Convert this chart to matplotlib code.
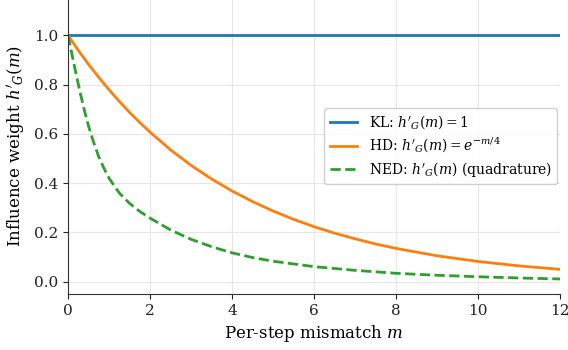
import matplotlib
matplotlib.use("Agg")
import matplotlib.pyplot as plt

plt.rcParams['font.family'] = ['DejaVu Serif']
plt.rcParams['mathtext.fontset'] = 'dejavuserif'

m_kl = [0, 12]
kl = [1.0, 1.0]

m_hd = [0, 0.25, 0.5, 0.75, 1, 1.25, 1.5, 1.75, 2, 2.5, 3, 3.5, 4, 4.5, 5, 5.5,
        6, 6.5, 7, 7.5, 8, 9, 10, 11, 12]
hd = [1.0, 0.939, 0.882, 0.829, 0.779, 0.732, 0.687, 0.646, 0.607, 0.535, 0.472,
      0.417, 0.368, 0.325, 0.287, 0.253, 0.223, 0.197, 0.174, 0.153, 0.135,
      0.105, 0.082, 0.064, 0.050]

m_ned = [0, 0.05, 0.1, 0.2, 0.3, 0.4, 0.5, 0.6, 0.75, 0.9, 1.0, 1.25, 1.5, 1.75,
         2, 2.5, 3, 3.5, 4, 4.5, 5, 6, 7, 8, 9, 10, 11, 12]
ned = [1.0, 0.96, 0.92, 0.84, 0.765, 0.695, 0.632, 0.578, 0.507, 0.452, 0.42,
       0.36, 0.318, 0.285, 0.258, 0.21, 0.172, 0.142, 0.117, 0.098, 0.083,
       0.061, 0.046, 0.034, 0.026, 0.020, 0.015, 0.011]

xticks = [0, 2, 4, 6, 8, 10, 12]
yticks = [0.0, 0.2, 0.4, 0.6, 0.8, 1.0]

fig = plt.figure(figsize=(5.68, 3.5), dpi=100)
ax = fig.add_axes([0.1197, 0.16, 0.8663, 0.845])

ax.plot(m_kl, kl, color='#1f77b4', lw=2, label=r"KL: $h'_G(m) = 1$")
ax.plot(m_hd, hd, color='#ff7f0e', lw=2, label=r"HD: $h'_G(m) = e^{-m/4}$")
ax.plot(m_ned, ned, color='#2ca02c', lw=2, ls='--', label=r"NED: $h'_G(m)$ (quadrature)")

ax.set_xlim(0, 12)
ax.set_ylim(-0.05, 1.15)
ax.set_xticks(xticks)
ax.set_yticks(yticks)
ax.tick_params(labelsize=11, colors='#222222')
ax.grid(True, color='#dddddd', alpha=0.7, lw=0.8)
for s in ['top', 'right']:
    ax.spines[s].set_visible(False)
for s in ['left', 'bottom']:
    ax.spines[s].set_color('#333333')
ax.set_xlabel(r"Per-step mismatch $m$", fontsize=12)
ax.set_ylabel(r"Influence weight $h'_G(m)$", fontsize=12)
ax.legend(loc='center right', bbox_to_anchor=(1.0, 0.5), borderaxespad=0.2,
          fontsize=10, labelspacing=0.35, framealpha=0.9)

fig.savefig('out.png', dpi=100)
